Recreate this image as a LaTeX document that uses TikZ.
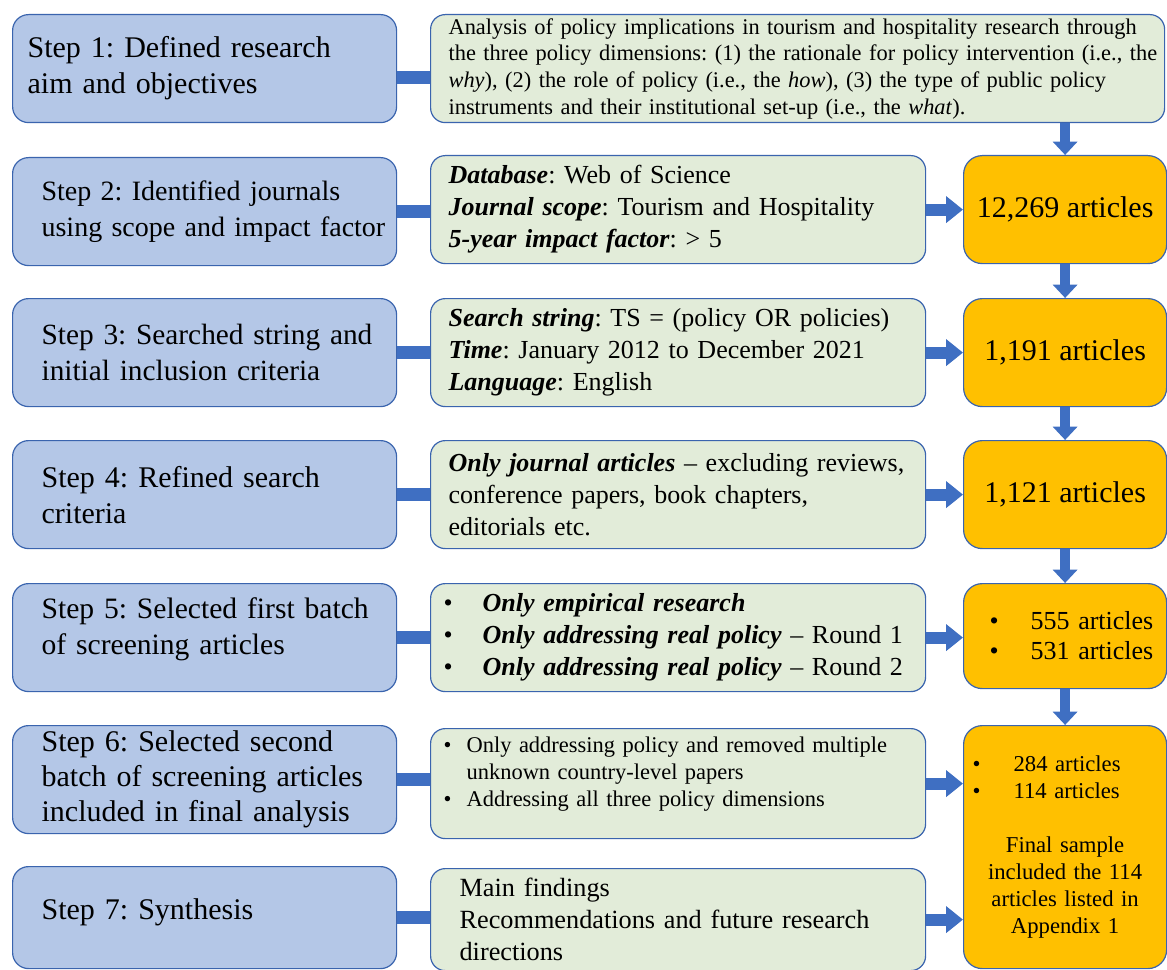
\documentclass[tikz,border=0pt]{standalone}
\usepackage{fontspec}
\setmainfont{Liberation Serif}
\usetikzlibrary{arrows.meta}
\definecolor{bluef}{HTML}{B4C7E7}
\definecolor{greenf}{HTML}{E2ECD9}
\definecolor{orangef}{HTML}{FFC000}
\definecolor{bordc}{HTML}{3A64AE}
\definecolor{arrowc}{HTML}{3F6FC2}
\newcommand{\bfit}[1]{\textbf{\textit{#1}}}
\newcommand{\bitem}[2]{\mbox{\makebox[#1][l]{\textbullet}#2}}
\frenchspacing
\begin{document}
\begin{tikzpicture}[x=0.75pt,y=-0.75pt,
  box/.style={rounded corners=11pt, draw=bordc, line width=0.9pt, anchor=north west, inner ysep=0pt},
  stepbox/.style={box, fill=bluef, rounded corners=12pt, minimum width=288pt, minimum height=81pt, align=left, inner xsep=21.75pt, text width=244.5pt, font=\fontsize{22.5pt}{27pt}\selectfont},
  critbox/.style={box, fill=greenf, minimum width=371.25pt, minimum height=81pt, align=left, inner xsep=13.5pt, text width=344.25pt, font=\fontsize{19.5pt}{24pt}\selectfont},
  countbox/.style={box, fill=orangef, rounded corners=14pt, minimum width=152.25pt, minimum height=81pt, align=center, font=\fontsize{22.5pt}{27pt}\selectfont},
  bar/.style={draw=arrowc, line width=9.75pt},
  rarrow/.style={draw=arrowc, line width=9pt, -{Triangle[width=19.5pt,length=12.75pt]}},
  darrow/.style={draw=arrowc, line width=7pt, -{Triangle[width=18pt,length=10pt]}}
]
\useasboundingbox[fill=white] (0,0) rectangle (1167,970);

% left step boxes
\node[stepbox, inner xsep=11.25pt, text width=265.5pt] (b1) at (12,14)
  {\mbox{Step 1: Defined research}\\\mbox{aim and objectives}};
\node[stepbox, font=\fontsize{21pt}{27pt}\selectfont] (b2) at (12,157)
  {\mbox{Step 2: Identified journals}\\\mbox{using scope and impact factor}};
\node[stepbox, font=\fontsize{22pt}{27pt}\selectfont] (b3) at (12,298)
  {\mbox{Step 3: Searched string and}\\\mbox{initial inclusion criteria}};
\node[stepbox] (b4) at (12,440)
  {\mbox{Step 4: Refined search}\\\mbox{criteria}};
\node[stepbox, font=\fontsize{22.2pt}{27pt}\selectfont] (b5) at (12,583)
  {\mbox{Step 5: Selected first batch}\\\mbox{of screening articles}\\[-9pt]\mbox{}};
\node[stepbox, font=\fontsize{22.5pt}{26.25pt}\selectfont] (b6) at (12,725)
  {\mbox{Step 6: Selected second}\\\mbox{batch of screening articles}\\\mbox{included in final analysis}};
\node[stepbox, minimum height=76.5pt] (b7) at (12,866)
  {\mbox{Step 7: Synthesis}\\[-13.5pt]\mbox{}};

% middle criteria boxes
\node[critbox, minimum width=550.5pt, text width=523.5pt, font=\fontsize{16.8pt}{20pt}\selectfont] (g1) at (430,14)
  {\mbox{Analysis of policy implications in tourism and hospitality research through}\\
   \mbox{the three policy dimensions: (1) the rationale for policy intervention (i.e., the}\\
   \mbox{\textit{why}), (2) the role of policy (i.e., the \textit{how}), (3) the type of public policy}\\
   \mbox{instruments and their institutional set-up (i.e., the \textit{what}).}};
\node[critbox] (g2) at (430,155)
  {\mbox{\bfit{Database}: Web of Science}\\
   \mbox{\bfit{Journal scope}: Tourism and Hospitality}\\
   \mbox{\bfit{5-year impact factor}: > 5}};
\node[critbox] (g3) at (430,298)
  {\mbox{\bfit{Search string}: TS = (policy OR policies)}\\
   \mbox{\bfit{Time}: January 2012 to December 2021}\\
   \mbox{\bfit{Language}: English}};
\node[critbox] (g4) at (430,440)
  {\mbox{\bfit{Only journal articles} – excluding reviews,}\\
   \mbox{conference papers, book chapters,}\\
   \mbox{editorials etc.}};
\node[critbox, inner xsep=9.75pt, text width=351.75pt] (g5) at (430,583)
  {\bitem{29.25pt}{\bfit{Only empirical research}}\\
   \bitem{29.25pt}{\bfit{Only addressing real policy} – Round 1}\\
   \bitem{29.25pt}{\bfit{Only addressing real policy} – Round 2}};
\node[critbox, inner xsep=9.75pt, text width=351.75pt, minimum height=82.5pt, font=\fontsize{16.85pt}{20.25pt}\selectfont] (g6) at (430,728)
  {\bitem{17.25pt}{Only addressing policy and removed multiple}\\
   \mbox{\hspace*{17.25pt}unknown country-level papers}\\
   \bitem{17.25pt}{Addressing all three policy dimensions}\\[-1.75pt]\mbox{}};
\node[critbox, inner xsep=21.75pt, text width=327.75pt, minimum height=76.5pt, font=\fontsize{19.7pt}{24pt}\selectfont] (g7) at (430,868)
  {\mbox{Main findings}\\
   \mbox{Recommendations and future research}\\
   \mbox{directions}};

% right count boxes
\node[countbox] (o1) at (963,155) {12,269 articles};
\node[countbox] (o2) at (963,298) {1,191 articles};
\node[countbox] (o3) at (963,440) {1,121 articles};
\node[countbox, minimum height=78.75pt, align=left, inner xsep=19.5pt, text width=113.25pt, font=\fontsize{19.5pt}{22.5pt}\selectfont] (o4) at (963,583)
  {\bitem{30.75pt}{555 articles}\\\bitem{30.75pt}{531 articles}};
\node[countbox, minimum height=182.25pt, align=left, inner xsep=6.75pt, text width=138.75pt, font=\fontsize{17pt}{20.25pt}\selectfont] (o5) at (963,725)
  {\bitem{30.75pt}{284 articles}\\\bitem{30.75pt}{114 articles}\\[20.25pt]
   \makebox[\linewidth][c]{Final sample}\\
   \makebox[\linewidth][c]{included the 114}\\
   \makebox[\linewidth][c]{articles listed in}\\
   \makebox[\linewidth][c]{Appendix 1}};

% connectors: steps to criteria
\draw[bar] ([yshift=-6.75pt]b1.east) -- ([yshift=-6.75pt]g1.west);
\draw[bar] (b2.east) -- (b2.east -| g2.west);
\draw[bar] (b3.east) -- (b3.east -| g3.west);
\draw[bar] (b4.east) -- (b4.east -| g4.west);
\draw[bar] (b5.east) -- (b5.east -| g5.west);
\draw[bar] (b6.east) -- (b6.east -| g6.west);
\draw[bar] (b7.east) -- (b7.east -| g7.west);

% criteria to counts
\draw[rarrow] (g2.east) -- (g2.east -| o1.west);
\draw[rarrow] (g3.east) -- (g3.east -| o2.west);
\draw[rarrow] (g4.east) -- (g4.east -| o3.west);
\draw[rarrow] (g5.east) -- (g5.east -| o4.west);
\draw[rarrow] (g6.east) -- (g6.east -| o5.west);
\draw[rarrow] (g7.east) -- (g7.east -| o5.west);

% vertical flow
\draw[darrow] (g1.south -| o1.north) -- (o1.north);
\draw[darrow] (o1.south) -- (o2.north);
\draw[darrow] (o2.south) -- (o3.north);
\draw[darrow] (o3.south) -- (o4.north);
\draw[darrow] (o4.south) -- (o5.north);
\end{tikzpicture}
\end{document}
